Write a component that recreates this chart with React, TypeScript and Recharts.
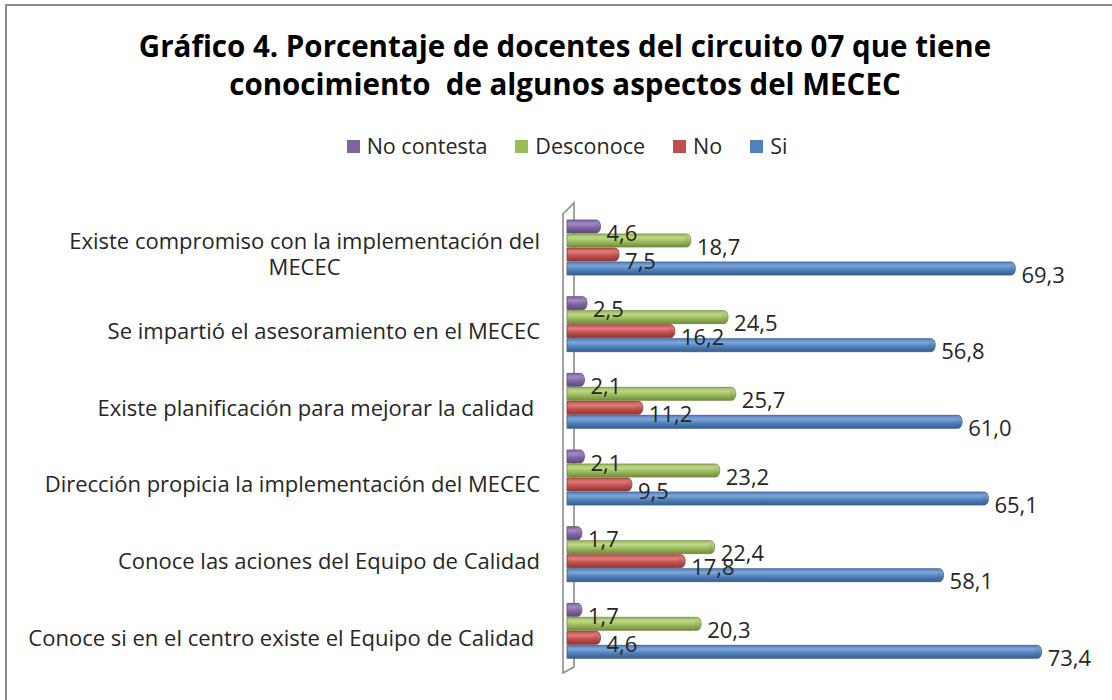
import React from "react";
import { BarChart, Bar, XAxis, YAxis, LabelList } from "recharts";

const categories = [
  "Existe compromiso con la implementación del\nMECEC",
  "Se impartió el asesoramiento en el MECEC",
  "Existe planificación para mejorar la calidad ",
  "Dirección propicia la implementación del MECEC",
  "Conoce las aciones del Equipo de Calidad",
  "Conoce si en el centro existe el Equipo de Calidad ",
];
const noContesta = [4.6, 2.5, 2.1, 2.1, 1.7, 1.7];
const desconoce = [18.7, 24.5, 25.7, 23.2, 22.4, 20.3];
const no = [7.5, 16.2, 11.2, 9.5, 17.8, 4.6];
const si = [69.3, 56.8, 61.0, 65.1, 58.1, 73.4];

const seriesDefs = [
  { key: "noContesta", name: "No contesta", color: "#8064A2", light: "#A58BC6", dark: "#5E4878" },
  { key: "desconoce", name: "Desconoce", color: "#9BBB59", light: "#BCD88A", dark: "#71893F" },
  { key: "no", name: "No", color: "#C0504D", light: "#DE7E7B", dark: "#8C3836" },
  { key: "si", name: "Si", color: "#4F81BD", light: "#7EA6D8", dark: "#385D8A" },
];

const data = categories.map((c, i) => ({
  cat: c,
  noContesta: noContesta[i],
  desconoce: desconoce[i],
  no: no[i],
  si: si[i],
}));

const FONT = "'Open Sans', Lato, sans-serif";
const W = 1112;
const H = 700;
const MARGIN = { top: 209, right: 32, bottom: 31, left: 0 };
const YAXIS_W = 567;

let measureCtx: CanvasRenderingContext2D | null = null;
function measure(text: string, font: string) {
  if (!measureCtx) {
    const c = document.createElement("canvas");
    measureCtx = c.getContext("2d");
  }
  if (!measureCtx) return text.length * 10;
  measureCtx.font = font;
  return measureCtx.measureText(text).width;
}

const CatTick = (props: any) => {
  const { y, payload } = props;
  const xr = YAXIS_W - 27;
  const lines: string[] = String(payload.value).split("\n");
  const fs = 22;
  if (lines.length === 1) {
    return (
      <text x={xr} y={y + 6} textAnchor="end" dominantBaseline="central" fontFamily={FONT} fontSize={fs} fill="#262626" style={{ whiteSpace: "pre" }}>
        {lines[0]}
      </text>
    );
  }
  const widths = lines.map((l) => measure(l, `${fs}px 'Open Sans'`));
  const maxW = Math.max(...widths);
  const cx = xr - maxW / 2;
  const lh = 26;
  return (
    <g>
      {lines.map((l, i) => (
        <text key={i} x={cx} y={y + 6 + (i - (lines.length - 1) / 2) * lh} textAnchor="middle" dominantBaseline="central" fontFamily={FONT} fontSize={fs} fill="#262626">
          {l}
        </text>
      ))}
    </g>
  );
};

const makeShape = (key: string) => (props: any) => {
  const { x, y, width, height } = props;
  if (width == null || height == null) return null;
  const rx = 4;
  const ry = height / 2;
  const w = Math.max(width, 0);
  const d = `M${x},${y} L${x + w},${y} A${rx},${ry} 0 0 1 ${x + w},${y + height} L${x},${y + height} Z`;
  return (
    <g>
      <path d={d} fill={`url(#grad-${key})`} stroke={`url(#edge-${key})`} strokeWidth={0.8} />
      <ellipse cx={x + w} cy={y + ry} rx={rx * 0.6} ry={ry * 0.9} fill={`url(#cap-${key})`} opacity={0.6} />
    </g>
  );
};

const ValueLabel = (props: any) => {
  const { x, y, width, height, value } = props;
  return (
    <text x={x + width + 10} y={y + height / 2 + 5} dominantBaseline="central" fontFamily={FONT} fontSize={22} fill="#262626">
      {Number(value).toFixed(1).replace(".", ",")}
    </text>
  );
};

export default function App() {
  return (
    <div style={{ position: "absolute", left: 0, top: 0, width: W, height: H, overflow: "hidden", background: "#fff" }}>
      <div style={{ position: "absolute", left: 5, top: 4, width: 1300, height: 900, border: "2px solid #8a8a8a", boxSizing: "border-box" }} />
      <div style={{ position: "absolute", left: 0, top: 27, width: W, textAlign: "center", paddingLeft: 18, boxSizing: "border-box", fontFamily: FONT, fontWeight: 700, fontSize: 29.5, lineHeight: "38px", color: "#000" }}>
        Gráfico 4. Porcentaje de docentes del circuito 07 que tiene
        <br />
        conocimiento&nbsp; de algunos aspectos del MECEC
      </div>
      <div style={{ position: "absolute", left: 0, top: 132, width: W, display: "flex", justifyContent: "center", gap: 28, fontFamily: FONT, fontSize: 21.5, lineHeight: "28px", color: "#262626", paddingLeft: 22, boxSizing: "border-box" }}>
        {seriesDefs.map((s) => (
          <div key={s.key} style={{ display: "flex", alignItems: "center" }}>
            <span style={{ width: 13, height: 13, background: s.color, display: "inline-block", marginRight: 7 }} />
            <span>{s.name}</span>
          </div>
        ))}
      </div>
      <svg style={{ position: "absolute", left: 0, top: 0 }} width={W} height={H}>
        <path d="M563,673 L563,214 L574,203 L574,667 Z" fill="none" stroke="#8c8c8c" strokeWidth={1.6} />
      </svg>
      <div style={{ position: "absolute", left: 0, top: 0 }}>
        <BarChart width={W} height={H} data={data} layout="vertical" margin={MARGIN} barSize={13} barGap={1}>
          <defs>
            {seriesDefs.map((s) => (
              <React.Fragment key={s.key}>
                <linearGradient id={`grad-${s.key}`} x1="0" y1="0" x2="0" y2="1">
                  <stop offset="0%" stopColor={s.color} />
                  <stop offset="30%" stopColor={s.light} />
                  <stop offset="60%" stopColor={s.color} />
                  <stop offset="100%" stopColor={s.dark} />
                </linearGradient>
                <linearGradient id={`edge-${s.key}`} x1="0" y1="0" x2="0" y2="1">
                  <stop offset="0%" stopColor={s.dark} />
                  <stop offset="100%" stopColor={s.dark} />
                </linearGradient>
                <linearGradient id={`cap-${s.key}`} x1="0" y1="0" x2="0" y2="1">
                  <stop offset="0%" stopColor={s.light} />
                  <stop offset="100%" stopColor={s.dark} />
                </linearGradient>
              </React.Fragment>
            ))}
          </defs>
          <XAxis type="number" domain={[0, 80]} hide />
          <YAxis type="category" dataKey="cat" width={YAXIS_W} axisLine={false} tickLine={false} tick={<CatTick />} interval={0} />
          {seriesDefs.map((s) => (
            <Bar key={s.key} dataKey={s.key} name={s.name} fill={s.color} isAnimationActive={false} shape={makeShape(s.key)}>
              <LabelList dataKey={s.key} content={<ValueLabel />} />
            </Bar>
          ))}
        </BarChart>
      </div>
    </div>
  );
}
